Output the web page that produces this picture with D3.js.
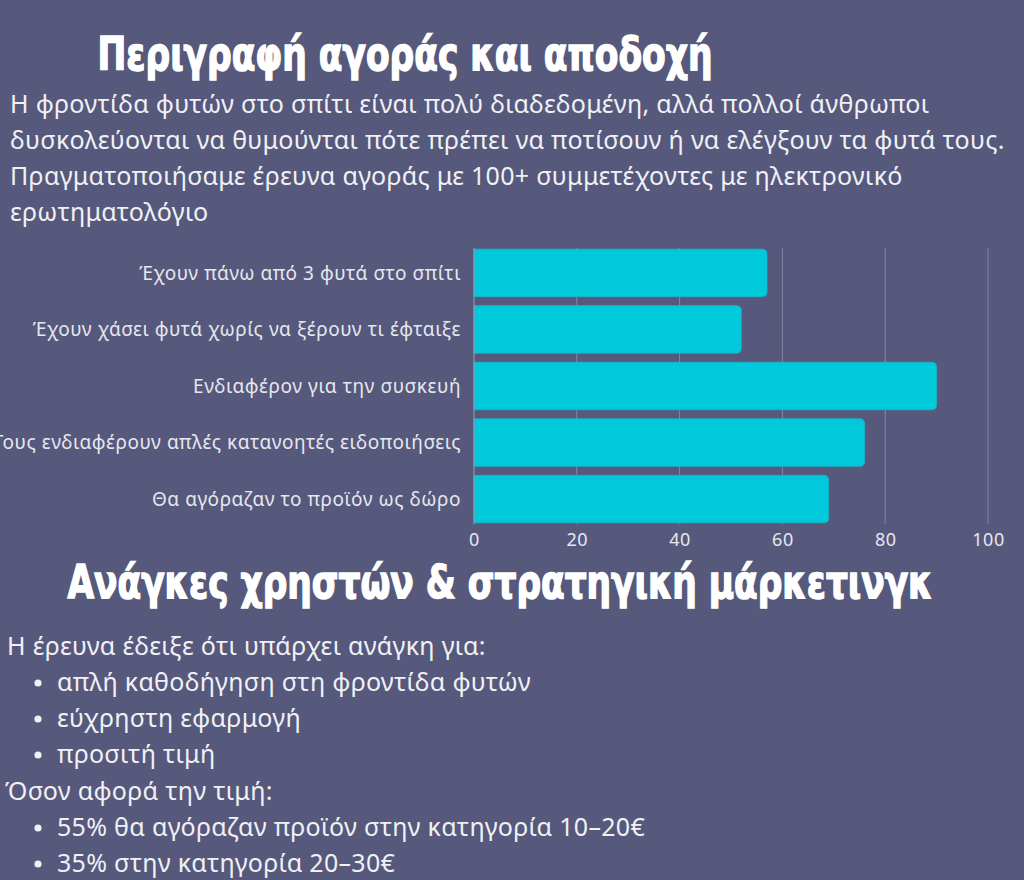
<!DOCTYPE html>
<html>
<head>
<meta charset="utf-8">
<script src="https://cdn.jsdelivr.net/npm/d3@7"></script>
<style>
  html, body { margin: 0; padding: 0; background: #56597c; }
  svg { display: block; }
</style>
</head>
<body>
<div id="vis"></div>
<script>
// Data
const categories = [
    'Έχουν πάνω από 3 φυτά στο σπίτι',
    'Έχουν χάσει φυτά χωρίς να ξέρουν τι έφταιξε',
    'Ενδιαφέρον για την συσκευή',
    'Τους ενδιαφέρουν απλές κατανοητές ειδοποιήσεις',
    'Θα αγόραζαν το προϊόν ως δώρο'
];
const values = [57, 52, 90, 76, 69];
const xTicks = [0, 20, 40, 60, 80, 100];

const title1 = 'Περιγραφή αγοράς και αποδοχή';
const intro = [
    'Η φροντίδα φυτών στο σπίτι είναι πολύ διαδεδομένη, αλλά πολλοί άνθρωποι',
    'δυσκολεύονται να θυμούνται πότε πρέπει να ποτίσουν ή να ελέγξουν τα φυτά τους.',
    'Πραγματοποιήσαμε έρευνα αγοράς με 100+ συμμετέχοντες με ηλεκτρονικό',
    'ερωτηματολόγιο'
];
const title2 = 'Ανάγκες χρηστών & στρατηγική μάρκετινγκ';
const needsIntro = 'Η έρευνα έδειξε ότι υπάρχει ανάγκη για:';
const needs = ['απλή καθοδήγηση στη φροντίδα φυτών', 'εύχρηστη εφαρμογή', 'προσιτή τιμή'];
const priceIntro = 'Όσον αφορά την τιμή:';
const prices = ['55% θα αγόραζαν προϊόν στην κατηγορία 10–20€', '35% στην κατηγορία 20–30€'];

const width = 1024;
const height = 880;
const textColor = '#f0f0f5';
const labelColor = '#e6e7ef';
const bodyFont = '"Noto Sans", sans-serif';
const bodySize = 25;
const bodySpacing = 0.3;
const titleFont = '"Liberation Sans Narrow", "DejaVu Sans Condensed", sans-serif';

const margin = { top: 248, left: 474, right: 36, bottom: 356 };
const plotBottom = height - margin.bottom;

let svg = d3.select('#vis')
    .append('svg')
    .attr('width', width)
    .attr('height', height);

// Heading helper
function heading(str, cx, y, len) {
    svg.append('text')
        .attr('x', cx)
        .attr('y', y)
        .attr('text-anchor', 'middle')
        .attr('fill', '#ffffff')
        .attr('stroke', '#ffffff')
        .attr('stroke-width', 1.4)
        .attr('font-family', titleFont)
        .attr('font-weight', 'bold')
        .attr('font-size', 46)
        .attr('textLength', len)
        .attr('lengthAdjust', 'spacingAndGlyphs')
        .text(str);
}

// Body text helper
function bodyText(sel) {
    return sel.attr('fill', textColor)
        .attr('font-family', bodyFont)
        .attr('font-size', bodySize)
        .attr('letter-spacing', bodySpacing);
}

heading(title1, 405, 70, 615);

// Intro paragraph
svg.append('g')
    .selectAll('text')
    .data(intro)
    .join('text')
    .attr('x', 10)
    .attr('y', (d, i) => 113 + i * 36)
    .call(bodyText)
    .text(d => d);

// Scales
let xScale = d3.scaleLinear()
    .domain([0, 100])
    .range([margin.left, width - margin.right]);

let yScale = d3.scaleBand()
    .domain(categories)
    .range([margin.top, plotBottom])
    .paddingInner(0.16)
    .paddingOuter(0.02);

// Grid lines
svg.append('g')
    .selectAll('line')
    .data(xTicks.slice(1))
    .join('line')
    .attr('x1', d => xScale(d))
    .attr('x2', d => xScale(d))
    .attr('y1', margin.top)
    .attr('y2', plotBottom)
    .attr('stroke', '#8386a3')
    .attr('stroke-width', 1);

// Bars, rounded on the right end only
const r = 5;
svg.append('g')
    .selectAll('path')
    .data(values)
    .join('path')
    .attr('d', (d, i) => {
        const x0 = xScale(0), x1 = xScale(d);
        const y0 = yScale(categories[i]), h = yScale.bandwidth();
        return `M${x0},${y0}H${x1 - r}Q${x1},${y0} ${x1},${y0 + r}V${y0 + h - r}Q${x1},${y0 + h} ${x1 - r},${y0 + h}H${x0}Z`;
    })
    .attr('fill', '#00c9dc')
    .attr('stroke', '#14b8cc')
    .attr('stroke-width', 0.8);

// Y axis line
svg.append('line')
    .attr('x1', xScale(0))
    .attr('x2', xScale(0))
    .attr('y1', margin.top)
    .attr('y2', plotBottom)
    .attr('stroke', '#9a9cb4');

// Category labels (the longest one runs past the left edge, as in the original)
svg.append('g')
    .selectAll('text')
    .data(categories)
    .join('text')
    .attr('x', 461)
    .attr('y', d => yScale(d) + yScale.bandwidth() / 2)
    .attr('dy', '0.35em')
    .attr('text-anchor', 'end')
    .attr('fill', labelColor)
    .attr('font-family', bodyFont)
    .attr('font-size', 19)
    .attr('letter-spacing', 0.55)
    .text(d => d);

// X axis
let xAxis = d3.axisBottom(xScale)
    .tickValues(xTicks)
    .tickSize(0)
    .tickPadding(9);

svg.append('g')
    .attr('transform', `translate(0,${plotBottom})`)
    .call(xAxis)
    .call(g => g.select('.domain').remove())
    .call(g => g.selectAll('text')
        .attr('fill', labelColor)
        .attr('font-family', bodyFont)
        .attr('font-size', 18)
        .attr('letter-spacing', 0.5));

// Second section
heading(title2, 500, 598, 865);

svg.append('text')
    .attr('x', 7)
    .attr('y', 655)
    .call(bodyText)
    .text(needsIntro);

function bulletList(items, startY) {
    let g = svg.append('g');
    g.selectAll('circle')
        .data(items)
        .join('circle')
        .attr('cx', 38)
        .attr('cy', (d, i) => startY + i * 36 - 8)
        .attr('r', 3.6)
        .attr('fill', textColor);
    g.selectAll('text')
        .data(items)
        .join('text')
        .attr('x', 57)
        .attr('y', (d, i) => startY + i * 36)
        .call(bodyText)
        .text(d => d);
}

bulletList(needs, 691);

svg.append('text')
    .attr('x', 5)
    .attr('y', 800)
    .call(bodyText)
    .text(priceIntro);

bulletList(prices, 836);
</script>
</body>
</html>
